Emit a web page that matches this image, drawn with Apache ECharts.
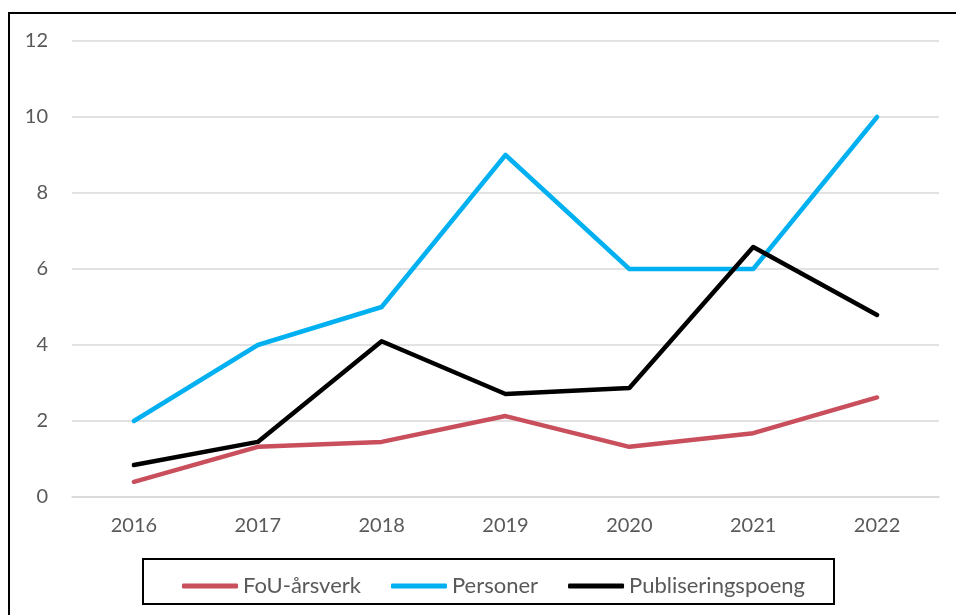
<!DOCTYPE html>
<html>
<head>
<meta charset="utf-8">
<script src="https://cdn.jsdelivr.net/npm/echarts@6/dist/echarts.min.js"></script>
<style>
html, body { margin: 0; padding: 0; background: #fff; }
#chart { width: 956px; height: 615px; }
</style>
</head>
<body>
<div id="chart"></div>
<script>
var years = ['2016', '2017', '2018', '2019', '2020', '2021', '2022'];
var fouAarsverk = [0.4, 1.32, 1.45, 2.13, 1.32, 1.68, 2.62];
var personer = [2, 4, 5, 9, 6, 6, 10];
var publiseringspoeng = [0.84, 1.45, 4.1, 2.71, 2.87, 6.58, 4.79];

var labelColor = '#595959';
var font = 'Lato';

function lineSeries(name, data, color) {
    return {
        name: name,
        type: 'line',
        data: data,
        symbol: 'none',
        lineStyle: { color: color, width: 4.5, cap: 'round', join: 'round' },
        itemStyle: { color: color }
    };
}

var myChart = echarts.init(document.getElementById('chart'));
var option = {
    animation: false,
    graphic: [
        {
            type: 'rect',
            shape: { x: 9, y: 13, width: 960, height: 620 },
            style: { fill: 'none', stroke: '#000', lineWidth: 2 }
        },
        {
            type: 'rect',
            shape: { x: 143, y: 559, width: 691, height: 45 },
            style: { fill: 'none', stroke: '#000', lineWidth: 2 }
        }
    ],
    grid: { left: 72, right: 17, top: 41, bottom: 118 },
    legend: {
        left: 177,
        top: 570,
        icon: 'roundRect',
        itemWidth: 56,
        itemHeight: 5,
        itemGap: 30,
        textStyle: { color: labelColor, fontSize: 22, fontFamily: font }
    },
    xAxis: {
        type: 'category',
        data: years,
        boundaryGap: true,
        axisLine: { lineStyle: { color: '#d9d9d9', width: 1.5 } },
        axisTick: { show: false },
        axisLabel: { color: labelColor, fontSize: 20, fontFamily: font, margin: 19 }
    },
    yAxis: {
        type: 'value',
        min: 0,
        max: 12,
        interval: 2,
        axisLine: { show: false },
        axisTick: { show: false },
        splitLine: { lineStyle: { color: '#d9d9d9', width: 1.5 } },
        axisLabel: { color: labelColor, fontSize: 20, fontFamily: font, margin: 24 }
    },
    series: [
        lineSeries('FoU-årsverk', fouAarsverk, '#c94f5c'),
        lineSeries('Personer', personer, '#00b0f0'),
        lineSeries('Publiseringspoeng', publiseringspoeng, '#000000')
    ]
};
myChart.setOption(option);
</script>
</body>
</html>
